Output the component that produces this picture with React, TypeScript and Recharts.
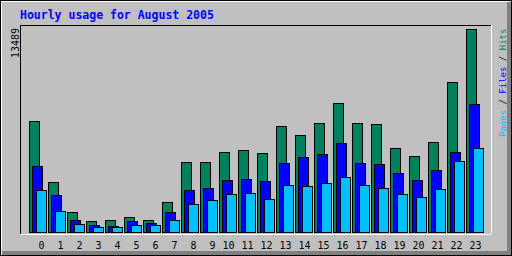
import React from "react"
import { BarChart, Bar, XAxis, YAxis, CartesianGrid } from "recharts"

const HOURS = [
    "0", "1", "2", "3", "4", "5", "6", "7", "8", "9", "10", "11",
    "12", "13", "14", "15", "16", "17", "18", "19", "20", "21", "22", "23",
]
const HITS = [
    7376, 3323, 1329, 731, 797, 997, 797, 1994, 4652, 4652, 5316, 5449,
    5250, 7044, 6446, 7243, 8572, 7243, 7177, 5582, 5050, 5981, 9968, 13489,
]
const FILES = [
    4386, 2459, 797, 465, 399, 731, 598, 1329, 2791, 2924, 3455, 3522,
    3389, 4585, 4984, 5183, 5914, 4585, 4519, 3921, 3455, 4120, 5316, 8506,
]
const PAGES = [
    2791, 1395, 532, 332, 332, 465, 465, 797, 1861, 2126, 2525, 2592,
    2193, 3123, 3057, 3256, 3655, 3123, 2924, 2525, 2326, 2857, 4718, 5582,
]
const Y_MAX_LABEL = "13489"
const Y_DOMAIN_TOP = 13790
const GRID_TICKS = [4420, 9080]

const TITLE = "Hourly usage for August 2005"

const COLORS = {
    hits: "#00805C",
    files: "#0000FF",
    pages: "#00C0FF",
}

const FONT = "'DejaVu Sans Mono', monospace"

const data = HOURS.map((hour, i) => ({
    hour,
    hits: HITS[i],
    files: FILES[i],
    pages: PAGES[i],
}))

// webalizer style: single digits sit a bit right of the group centre
const HourTick = (props: any) => {
    const { x, y, payload } = props
    const label = String(payload.value)
    const dx = label.length === 1 ? 4 : 1
    return (
        <text
            x={x + dx}
            y={y}
            dy="0.71em"
            textAnchor="middle"
            fontFamily={FONT}
            fontSize={10}
            fill="#000"
        >
            {label}
        </text>
    )
}

const crisp = { shapeRendering: "crispEdges" } as any

export default function App() {
    return (
        <div
            style={{
                position: "fixed",
                left: 0,
                top: 0,
                width: 512,
                height: 256,
                background: "#C0C0C0",
                boxShadow:
                    "inset 1px 1px 0 #000, inset -1px -1px 0 #000, inset 2px 2px 0 #fff, inset -5px -5px 0 #808080",
            }}
        >
            <div style={{ position: "absolute", left: 0, top: 0 }}>
                <BarChart
                    width={512}
                    height={256}
                    data={data}
                    margin={{ top: 24, right: 20, left: 19, bottom: 0 }}
                    barGap={-6.5}
                    barSize={10}
                >
                    <CartesianGrid vertical={false} stroke="#808080" fill="none" {...crisp} />

                    <XAxis
                        dataKey="hour"
                        height={22}
                        interval={0}
                        padding={{ left: 8, right: 7 }}
                        tickLine={false}
                        axisLine={{ stroke: "#FFFFFF", ...crisp }}
                        tick={<HourTick />}
                    />
                    <XAxis
                        xAxisId="top"
                        orientation="top"
                        dataKey="hour"
                        height={1}
                        tick={false}
                        tickLine={false}
                        axisLine={{ stroke: "#000000", ...crisp }}
                    />
                    <YAxis
                        width={1}
                        domain={[0, Y_DOMAIN_TOP]}
                        ticks={GRID_TICKS}
                        padding={{ bottom: 2 }}
                        tick={false}
                        tickLine={false}
                        axisLine={{ stroke: "#000000", ...crisp }}
                    />
                    <YAxis
                        yAxisId="right"
                        orientation="right"
                        width={1}
                        domain={[0, Y_DOMAIN_TOP]}
                        tick={false}
                        tickLine={false}
                        axisLine={{ stroke: "#FFFFFF", ...crisp }}
                    />

                    {/* hits behind, pages in front */}
                    <Bar dataKey="hits" fill={COLORS.hits} stroke="#000000" strokeWidth={1} {...crisp} isAnimationActive={false} />
                    <Bar dataKey="files" fill={COLORS.files} stroke="#000000" strokeWidth={1} {...crisp} isAnimationActive={false} />
                    <Bar dataKey="pages" fill={COLORS.pages} stroke="#000000" strokeWidth={1} {...crisp} isAnimationActive={false} />
                </BarChart>
            </div>

            <svg
                width={512}
                height={256}
                style={{ position: "absolute", left: 0, top: 0, pointerEvents: "none" }}
            >
                <text x={20} y={18.5} fontFamily={FONT} fontWeight="bold" fontSize={11.5} fill="#0000FF">
                    {TITLE}
                </text>
                <text
                    transform="translate(18.5,58) rotate(-90)"
                    fontFamily={FONT}
                    fontSize={10}
                    fill="#000"
                >
                    {Y_MAX_LABEL}
                </text>
                <text
                    transform="translate(505.5,137) rotate(-90)"
                    fontFamily={FONT}
                    fontSize={9}
                >
                    <tspan fill={COLORS.pages}>Pages</tspan>
                    <tspan fill="#000"> / </tspan>
                    <tspan fill={COLORS.files}>Files</tspan>
                    <tspan fill="#000"> / </tspan>
                    <tspan fill={COLORS.hits}>Hits</tspan>
                </text>
            </svg>
        </div>
    )
}
